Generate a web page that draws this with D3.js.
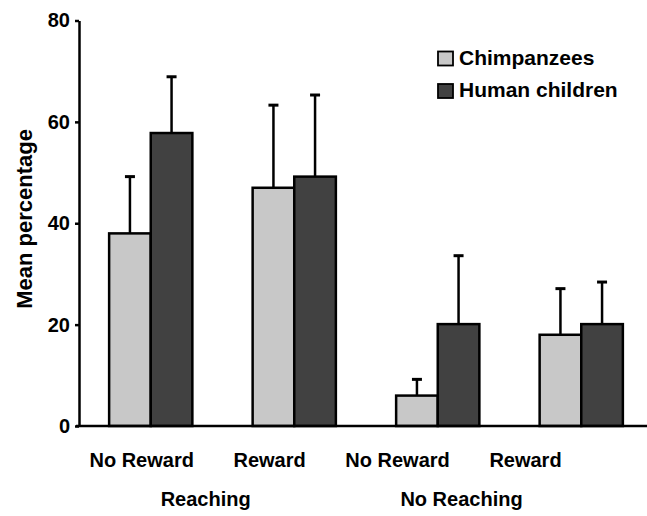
<!DOCTYPE html>
<html>
<head>
<meta charset="utf-8">
<script src="https://cdn.jsdelivr.net/npm/d3@7"></script>
<style>
  html, body { margin: 0; padding: 0; background: #fff; }
  svg { display: block; font-family: "Liberation Sans", Arial, sans-serif; font-weight: bold; }
</style>
</head>
<body>
<svg id="chart" width="647" height="516"></svg>
<script>
const categories = ["No Reward", "Reward", "No Reward ", "Reward "];
const groups = ["Reaching", "No Reaching"];
const series = ["Chimpanzees", "Human children"];
const chimpMeans = [38, 47, 6, 18];
const chimpErr = [11.2, 16.3, 3.2, 9.1];
const humanMeans = [57.8, 49.2, 20.1, 20.1];
const humanErr = [11.1, 16.1, 13.5, 8.3];
const yTicks = [0, 20, 40, 60, 80];
const colors = ["#c8c8c8", "#414141"];

const svg = d3.select("#chart");
const y = d3.scaleLinear().domain([0, 80]).range([426, 20.5]);
const x0 = d3.scaleBand().domain(categories).range([79, 653]).paddingInner(0.42).paddingOuter(0.21);
const x1 = d3.scaleBand().domain(series).range([0, x0.bandwidth()]);
const labelX = d3.scalePoint().domain(categories).range([141.7, 525.5]);

const data = categories.map((c, i) => ({
  cat: c,
  vals: [
    { s: series[0], v: chimpMeans[i], e: chimpErr[i], col: colors[0] },
    { s: series[1], v: humanMeans[i], e: humanErr[i], col: colors[1] }
  ]
}));

// error bars (drawn first, behind bars)
const g = svg.selectAll("g.cat").data(data).join("g").attr("class", "cat")
  .attr("transform", d => `translate(${x0(d.cat)},0)`);

g.selectAll("line.err").data(d => d.vals).join("line").attr("class", "err")
  .attr("x1", d => x1(d.s) + x1.bandwidth() / 2)
  .attr("x2", d => x1(d.s) + x1.bandwidth() / 2)
  .attr("y1", d => y(d.v))
  .attr("y2", d => y(d.v + d.e))
  .attr("stroke", "#000").attr("stroke-width", 2.5);
g.selectAll("line.cap").data(d => d.vals).join("line").attr("class", "cap")
  .attr("x1", d => x1(d.s) + x1.bandwidth() / 2 - 5)
  .attr("x2", d => x1(d.s) + x1.bandwidth() / 2 + 5)
  .attr("y1", d => y(d.v + d.e))
  .attr("y2", d => y(d.v + d.e))
  .attr("stroke", "#000").attr("stroke-width", 3);

g.selectAll("rect").data(d => d.vals).join("rect")
  .attr("x", d => x1(d.s))
  .attr("y", d => y(d.v))
  .attr("width", x1.bandwidth())
  .attr("height", d => y(0) - y(d.v))
  .attr("fill", d => d.col)
  .attr("stroke", "#000").attr("stroke-width", 2.5);

// baseline
svg.append("line").attr("x1", 76).attr("x2", 647).attr("y1", y(0)).attr("y2", y(0))
  .attr("stroke", "#000").attr("stroke-width", 2.5);

// y axis
const yAxis = svg.append("g").attr("transform", "translate(79,0)")
  .call(d3.axisLeft(y).tickValues(yTicks).tickSize(4).tickPadding(5).tickSizeOuter(0));
yAxis.select(".domain").attr("stroke-width", 2.5);
yAxis.selectAll(".tick line").attr("stroke-width", 2.5);
yAxis.selectAll(".tick text").attr("font-size", 20).attr("font-family", "Liberation Sans, Arial, sans-serif").attr("font-weight", "bold").attr("fill", "#000");

// y title
svg.append("text").attr("transform", "translate(32,219) rotate(-90)")
  .attr("text-anchor", "middle").attr("font-size", 22).text("Mean percentage");

// x labels
svg.selectAll("text.xl").data(categories).join("text").attr("class", "xl")
  .attr("x", d => labelX(d)).attr("y", 467).attr("text-anchor", "middle")
  .attr("font-size", 20).text(d => d.trim());

// group labels
groups.forEach((gname, i) => {
  const cx = (labelX(categories[2 * i]) + labelX(categories[2 * i + 1])) / 2;
  svg.append("text").attr("x", cx).attr("y", 506).attr("text-anchor", "middle")
    .attr("font-size", 20).text(gname);
});

// legend
series.forEach((s, i) => {
  svg.append("rect").attr("x", 438).attr("y", 51.5 + i * 32.5).attr("width", 15).attr("height", 14)
    .attr("fill", colors[i]).attr("stroke", "#000").attr("stroke-width", 1.8);
  svg.append("text").attr("x", 459).attr("y", 65 + i * 32).attr("font-size", 21).text(s);
});
</script>
</body>
</html>
